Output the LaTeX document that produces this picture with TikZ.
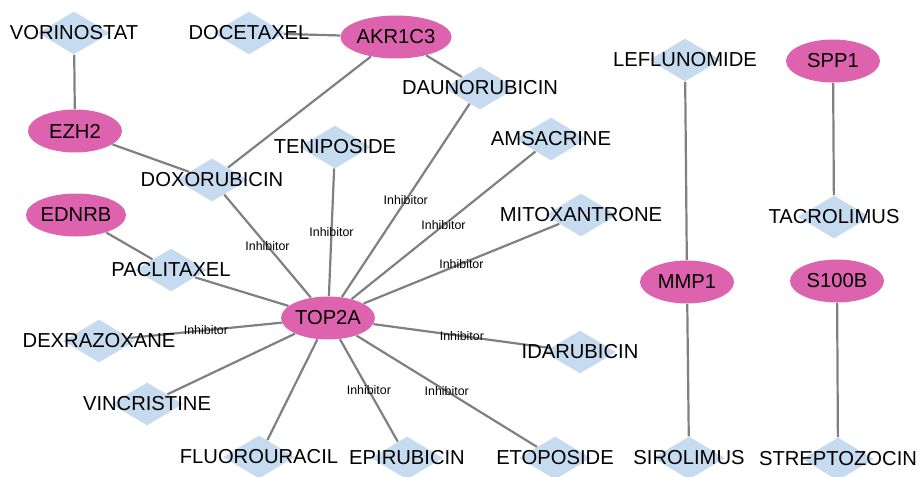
\documentclass[tikz,border=0pt]{standalone}
\usepackage{fontspec}
\setmainfont{Liberation Sans}
\usetikzlibrary{shapes.geometric,backgrounds}
\definecolor{drugblue}{RGB}{198,219,239}
\definecolor{genepink}{RGB}{222,99,174}
\definecolor{edgegray}{RGB}{128,128,128}
\begin{document}
\begin{tikzpicture}[x=0.5pt, y=-0.5pt,
	every label/.style={font=\fontsize{10.1}{11}\selectfont},
	drug/.style={diamond, fill=drugblue, minimum width=36pt, minimum height=21.5pt, inner sep=0pt},
	gene/.style={ellipse, fill=genepink, minimum width=47pt, minimum height=21.5pt, inner sep=0pt, font=\fontsize{10.1}{11}\selectfont},
	link/.style={draw=edgegray, line width=1.1pt},
	inh/.style={midway, font=\fontsize{6.2}{7}\selectfont, inner sep=0pt}]
			\useasboundingbox (0,0) rectangle (919,476);
			
			%genes
			\node (akr) at (396, 37) [gene]{AKR1C3};
			\node (ezh) at (75, 131) [gene]{EZH2};
			\node (ednrb) at (76, 215) [gene]{EDNRB};
			\node (top) at (328, 318) [gene]{TOP2A};
			\node (spp) at (833, 61) [gene]{SPP1};
			\node (mmp) at (687, 282) [gene]{MMP1};
			\node (s100) at (837, 281) [gene]{S100B};
			
			%drugs
			\node (vor) at (74, 33) [drug, label=center:VORINOSTAT]{};
			\node (doc) at (249, 33) [drug, label=center:DOCETAXEL]{};
			\node (dau) at (480, 88) [drug, label=center:DAUNORUBICIN]{};
			\node (lef) at (685, 60) [drug, label=center:LEFLUNOMIDE]{};
			\node (ten) at (335, 147) [drug, label=center:TENIPOSIDE]{};
			\node (ams) at (551, 139) [drug, label=center:AMSACRINE]{};
			\node (dox) at (212, 180) [drug, label=center:DOXORUBICIN]{};
			\node (mit) at (581, 215) [drug, label=center:MITOXANTRONE]{};
			\node (tac) at (834, 217) [drug, label=center:TACROLIMUS]{};
			\node (pac) at (171, 270) [drug, label=center:PACLITAXEL]{};
			\node (dex) at (99, 341) [drug, label=center:DEXRAZOXANE]{};
			\node (ida) at (580, 352) [drug, label=center:IDARUBICIN]{};
			\node (vin) at (147, 404) [drug, label=center:VINCRISTINE]{};
			\node (flu) at (259, 457) [drug, label=center:FLUOROURACIL]{};
			\node (epi) at (407, 458) [drug, label=center:EPIRUBICIN]{};
			\node (eto) at (555, 458) [drug, label=center:ETOPOSIDE]{};
			\node (sir) at (689, 458) [drug, label=center:SIROLIMUS]{};
			\node (str) at (838, 459) [drug, label=center:STREPTOZOCIN]{};
			
			%edges
			\begin{scope}[on background layer]
				\draw[link] (vor)--(ezh);
				\draw[link] (doc)--(akr);
				\draw[link] (akr)--(dau);
				\draw[link] (akr)--(dox);
				\draw[link] (ezh)--(dox);
				\draw[link] (ednrb)--(pac);
				\foreach \d in {dox, ten, dau, ams, mit, dex, ida, epi, eto}{
					\draw[link] (\d)--(top) node[inh]{Inhibitor};
				}
				\foreach \d in {pac, vin, flu}{
					\draw[link] (\d)--(top);
				}
				\draw[link] (lef)--(mmp);
				\draw[link] (mmp)--(sir);
				\draw[link] (spp)--(tac);
				\draw[link] (s100)--(str);
			\end{scope}
		\end{tikzpicture}
\end{document}
